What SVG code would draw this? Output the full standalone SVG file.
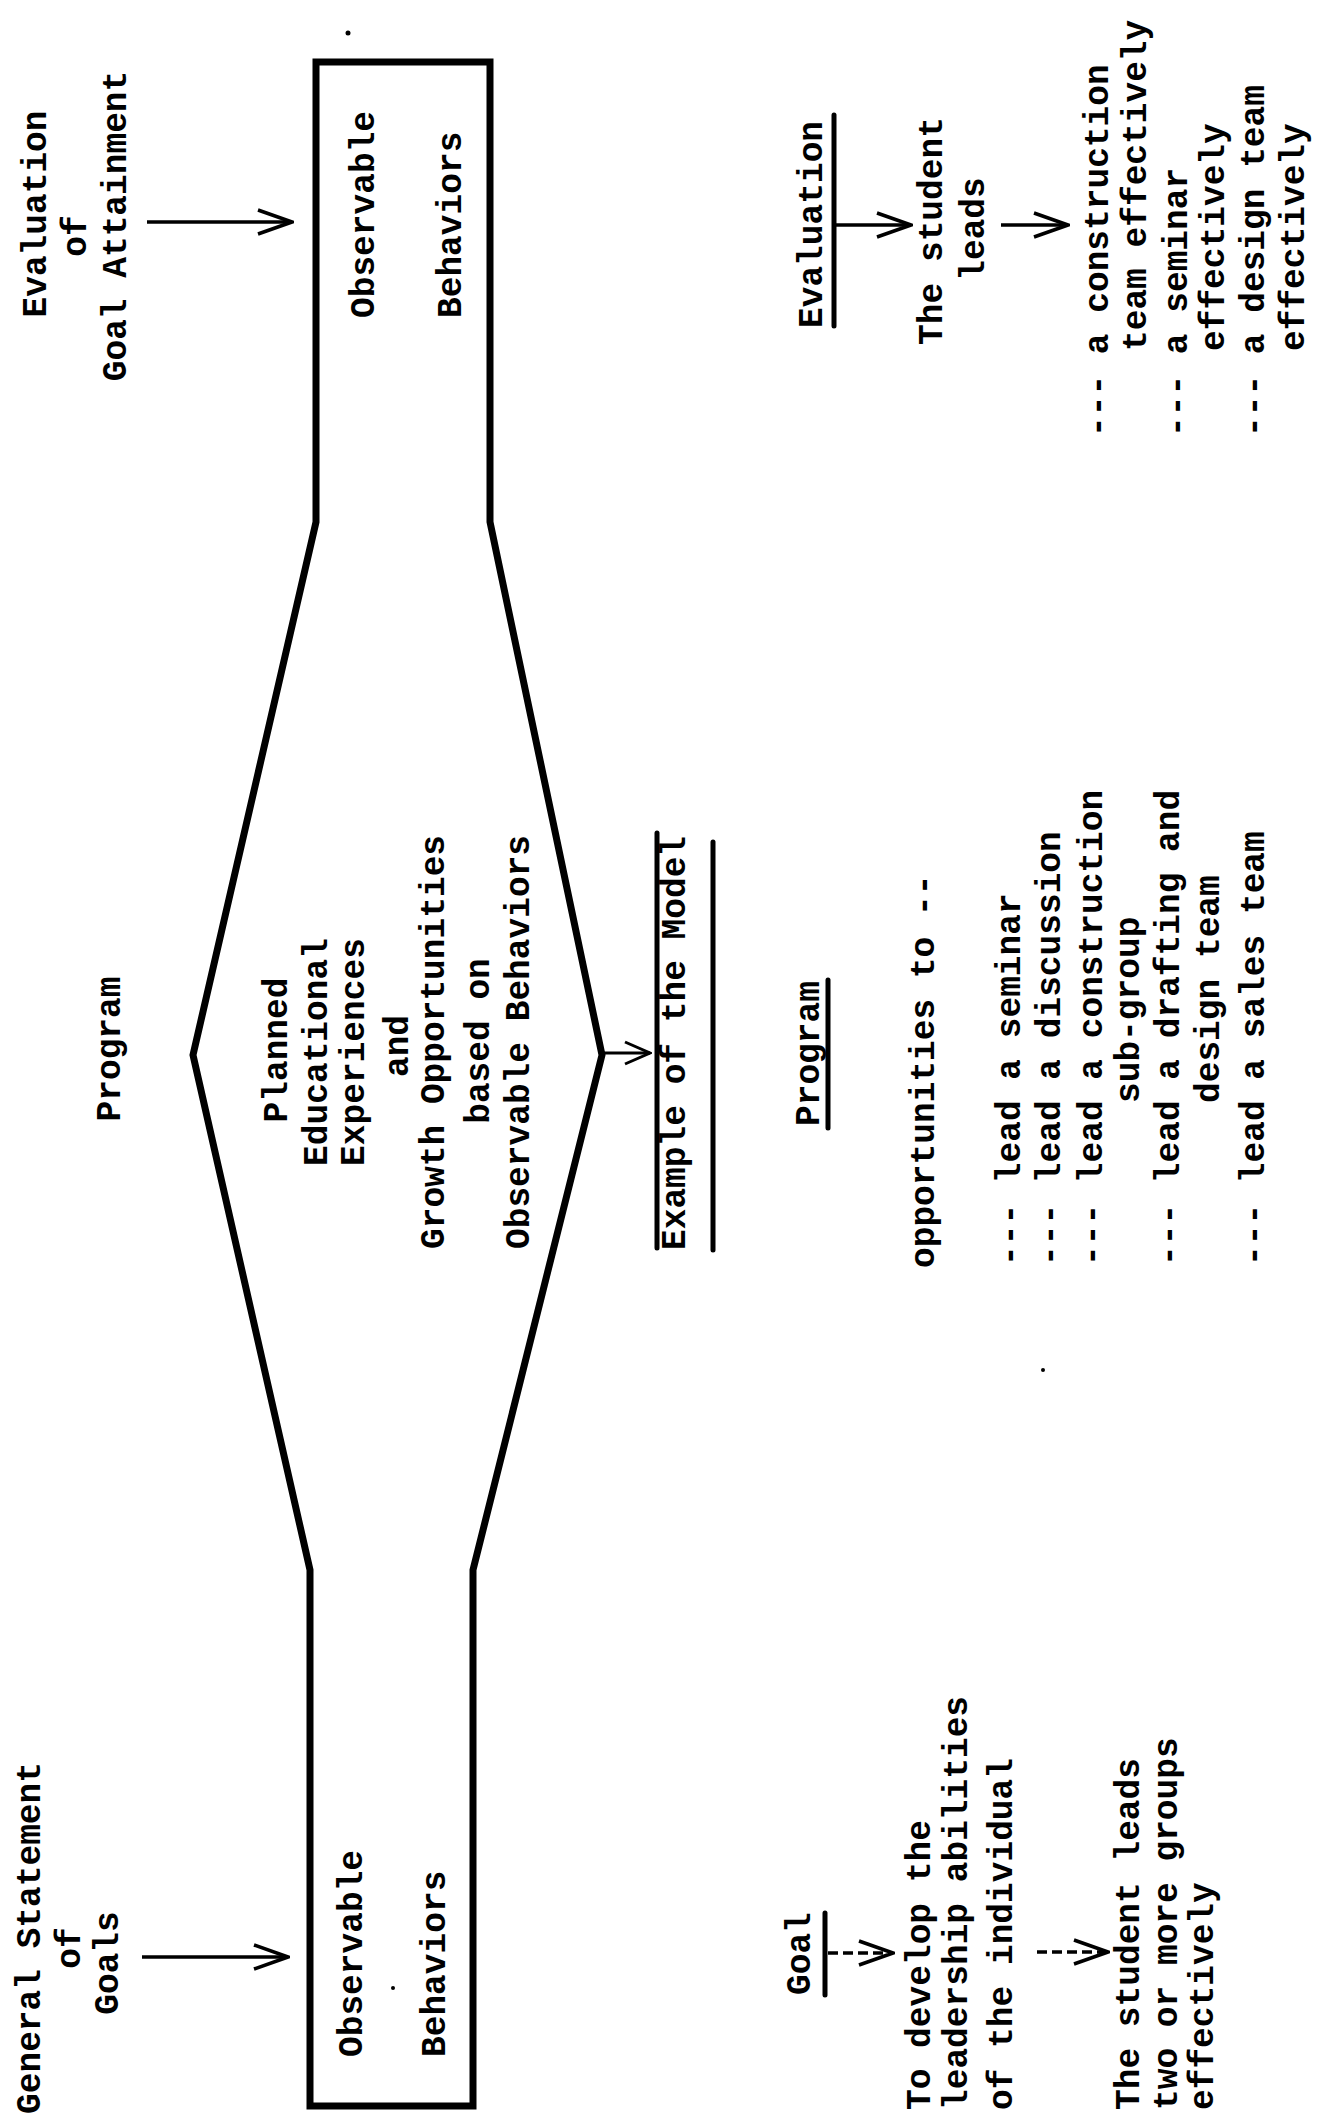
<svg xmlns="http://www.w3.org/2000/svg" width="1318" height="2127" viewBox="0 0 1318 2127">
<style>
text{font-family:"Liberation Mono","Courier New",monospace;font-size:34.5px;font-weight:bold;fill:#000}
.c{text-anchor:middle}
.s{text-anchor:start}
.shape{fill:none;stroke:#000;stroke-width:7;stroke-linejoin:miter}
.ul{stroke:#000;stroke-width:5;stroke-linecap:round}
.ar{fill:none;stroke:#000;stroke-width:3.5;marker-end:url(#chev)}
.ars{fill:none;stroke:#000;stroke-width:3;marker-end:url(#chevS)}
.dash{stroke-dasharray:10 5}
</style>
<defs>
<marker id="chev" viewBox="0 0 40 30" refX="38" refY="15" markerWidth="40" markerHeight="30" markerUnits="userSpaceOnUse" orient="auto">
<path d="M4,3 L38,15 L4,27" fill="none" stroke="#000" stroke-width="3.5"/>
</marker>
<marker id="chevS" viewBox="0 0 30 26" refX="28" refY="13" markerWidth="30" markerHeight="26" markerUnits="userSpaceOnUse" orient="auto">
<path d="M3,2 L28,13 L3,24" fill="none" stroke="#000" stroke-width="3"/>
</marker>
</defs>
<rect width="1318" height="2127" fill="#fff"/>

<g id="model-shape">
<path class="shape" d="M316,62 L490,62 L490,522 L602,1055 L473,1570 L473,2106 L310,2106 L310,1570 L193,1055 L316,522 Z"/>
</g>

<g id="eval-heading">
<text class="c" transform="translate(46,214) rotate(-90)">Evaluation</text>
<text class="c" transform="translate(86,236) rotate(-90)">of</text>
<text class="c" transform="translate(126,226) rotate(-90)">Goal Attainment</text>
</g>

<g id="eval-behaviors">
<text class="s" transform="translate(374,318) rotate(-90)">Observable</text>
<text class="s" transform="translate(461,318) rotate(-90)">Behaviors</text>
</g>

<g id="program-heading">
<text class="c" transform="translate(120,1049) rotate(-90)">Program</text>
</g>

<g id="program-body">
<text class="c" transform="translate(287,1050) rotate(-90)">Planned</text>
<text class="c" transform="translate(327,1052) rotate(-90)">Educational</text>
<text class="c" transform="translate(364,1052) rotate(-90)">Experiences</text>
<text class="c" transform="translate(408,1046) rotate(-90)">and</text>
<text class="c" transform="translate(444,1042) rotate(-90)">Growth Opportunities</text>
<text class="c" transform="translate(489,1041) rotate(-90)">based on</text>
<text class="c" transform="translate(529,1042) rotate(-90)">Observable Behaviors</text>
</g>

<g id="goals-heading">
<text class="c" transform="translate(40,1938) rotate(-90)">General Statement</text>
<text class="c" transform="translate(80,1948) rotate(-90)">of</text>
<text class="c" transform="translate(118,1963) rotate(-90)">Goals</text>
</g>

<g id="goals-behaviors">
<text class="s" transform="translate(362,2057) rotate(-90)">Observable</text>
<text class="s" transform="translate(445,2057) rotate(-90)">Behaviors</text>
</g>

<g id="example-title">
<line class="ul" x1="657" y1="833" x2="657" y2="1248"/>
<line class="ul" x1="713" y1="842" x2="713" y2="1250"/>
<text class="s" transform="translate(685,1250) rotate(-90)">Example of the Model</text>
</g>

<g id="example-goal">
<text class="s" transform="translate(810,1995) rotate(-90)">Goal</text>
<line class="ul" x1="825" y1="1913" x2="825" y2="1995"/>
<text class="s" transform="translate(930,2110) rotate(-90)">To develop the</text>
<text class="s" transform="translate(967,2110) rotate(-90)">leadership abilities</text>
<text class="s" transform="translate(1012,2110) rotate(-90)">of the individual</text>
<text class="s" transform="translate(1139,2110) rotate(-90)">The student leads</text>
<text class="s" transform="translate(1177,2110) rotate(-90)">two or more groups</text>
<text class="s" transform="translate(1213,2110) rotate(-90)">effectively</text>
</g>

<g id="example-program">
<text class="s" transform="translate(819,1126) rotate(-90)">Program</text>
<line class="ul" x1="828" y1="980" x2="828" y2="1128"/>
<text class="s" transform="translate(934,1268) rotate(-90)">opportunities to --</text>
<text class="s" transform="translate(1020,1266) rotate(-90)">--- lead a seminar</text>
<text class="s" transform="translate(1060,1266) rotate(-90)">--- lead a discussion</text>
<text class="s" transform="translate(1102,1266) rotate(-90)">--- lead a construction</text>
<text class="s" transform="translate(1139,1103) rotate(-90)">sub-group</text>
<text class="s" transform="translate(1179,1266) rotate(-90)">--- lead a drafting and</text>
<text class="s" transform="translate(1219,1103) rotate(-90)">design team</text>
<text class="s" transform="translate(1264,1266) rotate(-90)">--- lead a sales team</text>
</g>

<g id="example-evaluation">
<text class="s" transform="translate(822,328) rotate(-90)">Evaluation</text>
<line class="ul" x1="834" y1="115" x2="834" y2="326"/>
<text class="c" transform="translate(942,231) rotate(-90)">The student</text>
<text class="c" transform="translate(984,229) rotate(-90)">leads</text>
<text class="s" transform="translate(1108,437) rotate(-90)">--- a construction</text>
<text class="s" transform="translate(1146,351) rotate(-90)">team effectively</text>
<text class="s" transform="translate(1187,437) rotate(-90)">--- a seminar</text>
<text class="s" transform="translate(1224,351) rotate(-90)">effectively</text>
<text class="s" transform="translate(1264,437) rotate(-90)">--- a design team</text>
<text class="s" transform="translate(1304,351) rotate(-90)">effectively</text>
</g>

<g id="connectors">
<path class="ar" d="M147,222 L292,222"/>
<path class="ar" d="M142,1957 L288,1957"/>
<path class="ars" d="M604,1053 L650,1053"/>
<path class="ar dash" d="M828,1953 L893,1953"/>
<path class="ar dash" d="M1037,1952 L1108,1952"/>
<path class="ar" d="M836,225 L911,225"/>
<path class="ar" d="M1001,225 L1068,225"/>
</g>

<g id="specks">
<circle cx="348" cy="33" r="2.5" fill="#000"/>
<circle cx="393" cy="1988" r="2" fill="#000"/>
<circle cx="1043" cy="1370" r="2" fill="#000"/>
</g>
</svg>
